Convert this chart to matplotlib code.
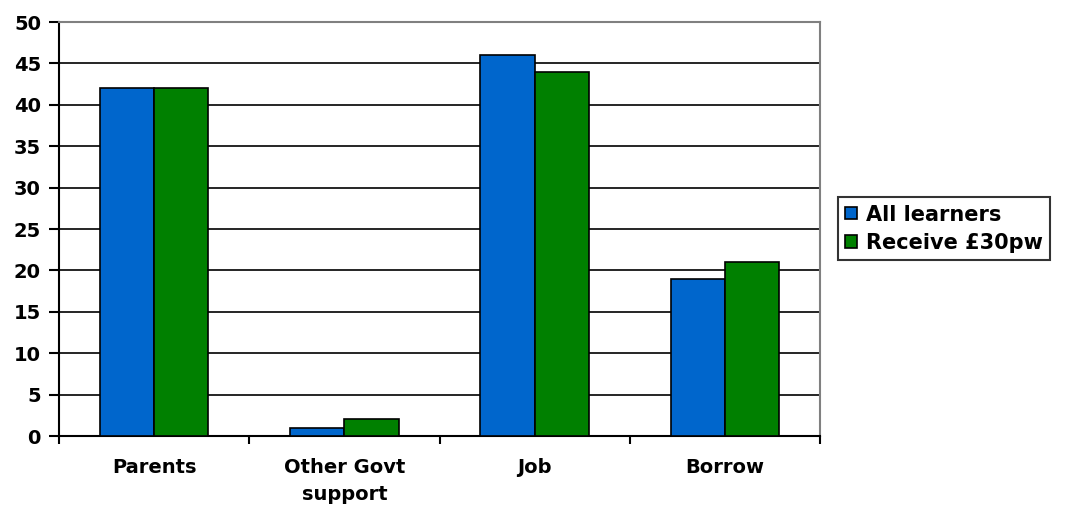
import matplotlib.pyplot as plt
import numpy as np

categories = ['Parents', 'Other Govt\nsupport', 'Job', 'Borrow']
all_learners = [42, 1, 46, 19]
receive_30pw = [42, 2, 44, 21]
series_names = ['All learners', 'Receive £30pw']

plt.rcParams['font.family'] = 'DejaVu Sans'
plt.rcParams['font.weight'] = 'bold'

fig = plt.figure(figsize=(10.65, 5.07), dpi=100)
ax = fig.add_axes([0.0554, 0.140, 0.7146, 0.8166])

x = np.arange(len(categories))
w = 0.285
ax.bar(x - w / 2, all_learners, w, color='#0066CC', edgecolor='black',
       linewidth=1.2, label=series_names[0], zorder=3)
ax.bar(x + w / 2, receive_30pw, w, color='#008000', edgecolor='black',
       linewidth=1.2, label=series_names[1], zorder=3)

ax.set_xlim(-0.5, len(categories) - 0.5)
ax.set_ylim(0, 50)
ax.set_yticks(range(0, 51, 5))
ax.yaxis.grid(True, color='black', linewidth=1.2, zorder=0)

# category labels centred, tick marks between groups
ax.set_xticks(np.arange(-0.5, len(categories), 1))
ax.set_xticklabels([])
ax.set_xticks(x, minor=True)
ax.set_xticklabels(categories, minor=True, fontsize=14, fontweight='bold',
                   linespacing=1.55)
ax.tick_params(axis='x', which='minor', length=0, pad=16)
ax.tick_params(axis='x', which='major', length=6, width=1.5, direction='out')
ax.tick_params(axis='y', length=7, width=1.5, direction='out',
               labelsize=14, pad=6)
for lab in ax.get_yticklabels():
    lab.set_fontweight('bold')

ax.spines['left'].set_linewidth(1.5)
ax.spines['bottom'].set_linewidth(1.5)
ax.spines['top'].set_color('#808080')
ax.spines['right'].set_color('#808080')
ax.spines['top'].set_linewidth(1.5)
ax.spines['right'].set_linewidth(1.5)

leg = fig.legend(loc='upper left', bbox_to_anchor=(0.787, 0.611),
                 frameon=True, fancybox=False, fontsize=15,
                 handlelength=0.55, handleheight=0.55, handletextpad=0.45,
                 borderpad=0.35, labelspacing=0.4, borderaxespad=0)
leg.get_frame().set_edgecolor('black')
leg.get_frame().set_linewidth(1.5)
for t in leg.get_texts():
    t.set_fontweight('bold')

fig.savefig('out.png', dpi=100)
